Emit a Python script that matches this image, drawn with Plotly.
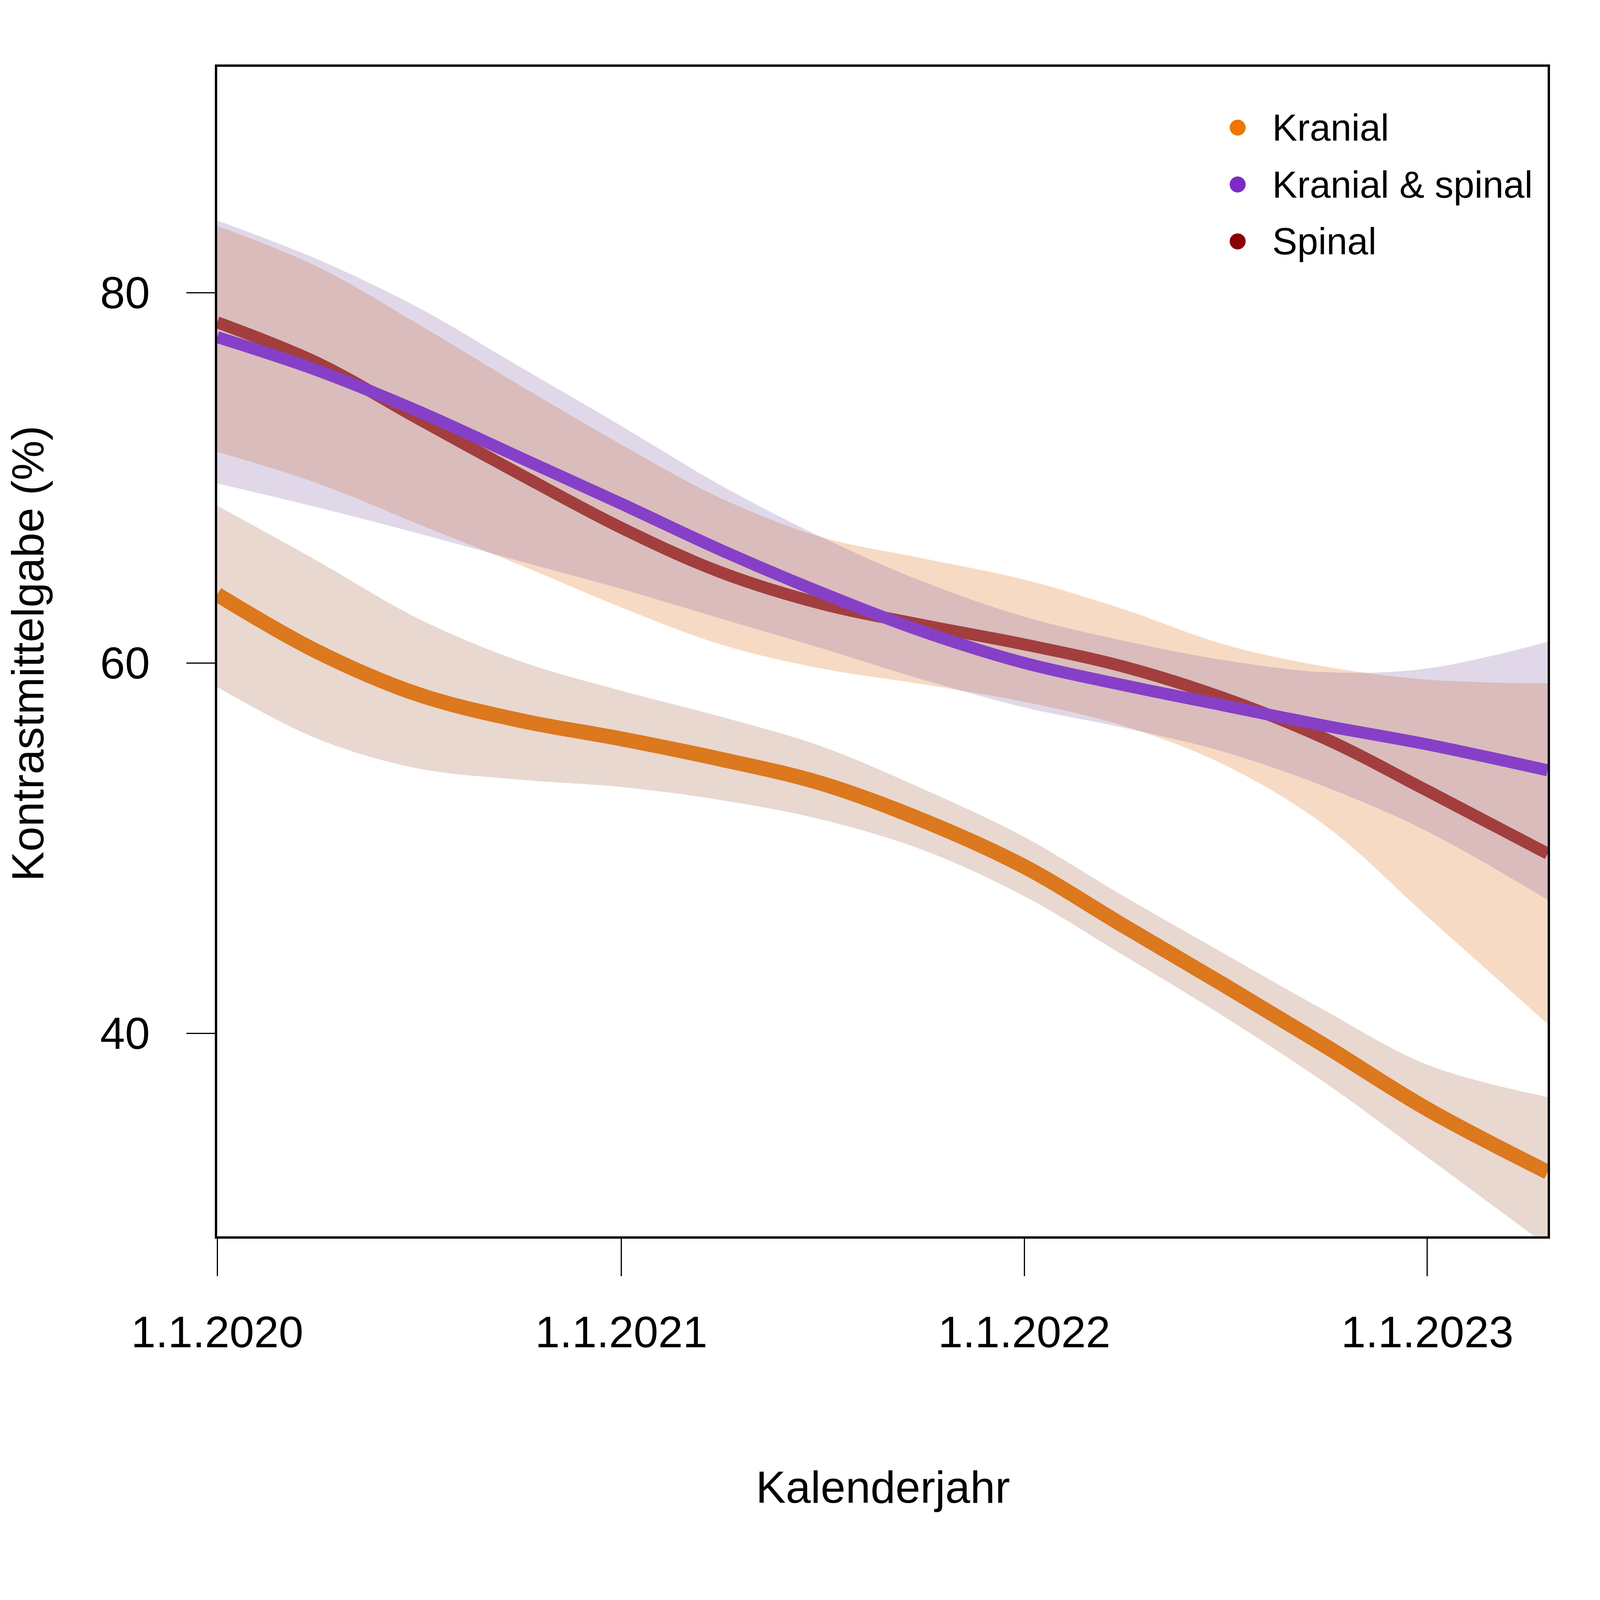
import plotly.graph_objects as go

# ---------------- data ----------------
dates = ['2020-01-01', '2020-04-01', '2020-07-01', '2020-10-01',
         '2021-01-01', '2021-04-01', '2021-07-01', '2021-10-01',
         '2022-01-01', '2022-04-01', '2022-07-01', '2022-10-01',
         '2023-01-01', '2023-04-20']

kranial    = [63.7, 60.6, 58.3, 56.9, 55.9, 54.8, 53.5, 51.5, 49.0, 45.8, 42.6, 39.3, 35.9, 32.5]
kranial_lo = [58.7, 55.9, 54.3, 53.7, 53.3, 52.6, 51.55, 49.9, 47.4, 44.2, 40.9, 37.3, 33.3, 28.5]
kranial_hi = [68.5, 65.5, 62.4, 60.1, 58.5, 57.1, 55.5, 53.2, 50.6, 47.4, 44.3, 41.2, 38.3, 36.55]

spinal     = [78.4, 76.2, 73.2, 70.2, 67.3, 64.9, 63.2, 62.05, 61.0, 59.8, 58.1, 55.9, 53.1, 49.7]
spinal_lo  = [71.4, 69.7, 67.5, 65.3, 63.0, 61.0, 59.7, 58.85, 57.9, 56.6, 54.5, 51.2, 46.3, 40.5]
spinal_hi  = [83.6, 81.4, 78.3, 75.0, 71.8, 68.9, 66.8, 65.65, 64.5, 62.9, 61.0, 59.8, 59.1, 58.9]

both       = [77.6, 75.8, 73.6, 71.1, 68.6, 66.1, 63.8, 61.7, 60.0, 58.8, 57.7, 56.6, 55.6, 54.2]
both_lo    = [69.7, 68.4, 67.0, 65.5, 64.0, 62.4, 60.8, 59.1, 57.6, 56.5, 55.2, 53.3, 50.9, 47.2]
both_hi    = [83.9, 81.8, 79.2, 76.0, 72.8, 69.6, 66.8, 64.4, 62.5, 61.2, 60.15, 59.5, 59.7, 61.15]

series_names = ['Kranial', 'Kranial & spinal', 'Spinal']
x_tickvals = ['2020-01-01', '2021-01-01', '2022-01-01', '2023-01-01']
x_ticktext = ['1.1.2020', '1.1.2021', '1.1.2022', '1.1.2023']
y_tickvals = [40, 60, 80]

# ---------------- styles ----------------
FONT = 'Liberation Sans, Arial, Helvetica, sans-serif'
W, H = 5889, 4500
ML, MR, MT, MB = 800, 192, 188, 1023
PW, PH = W - ML - MR, H - MT - MB

band_kranial = 'rgba(163,99,67,0.25)'
band_spinal = 'rgba(223,107,19,0.25)'
band_both = 'rgba(131,99,163,0.25)'
line_kranial = '#DC781E'
line_spinal = '#A23E3E'
line_both = '#8640C8'
legend_cols = ['#EE7700', '#7D2AC9', '#8B0000']

fig = go.Figure()

def add_band(lo, hi, color):
    fig.add_trace(go.Scatter(x=dates, y=hi, mode='lines', line=dict(width=0, shape='spline'),
                             hoverinfo='skip', showlegend=False))
    fig.add_trace(go.Scatter(x=dates, y=lo, mode='lines', line=dict(width=0, shape='spline'),
                             fill='tonexty', fillcolor=color, hoverinfo='skip', showlegend=False))

add_band(kranial_lo, kranial_hi, band_kranial)
add_band(spinal_lo, spinal_hi, band_spinal)
add_band(both_lo, both_hi, band_both)

fig.add_trace(go.Scatter(x=dates, y=kranial, mode='lines', name=series_names[0],
                         line=dict(color=line_kranial, width=55, shape='spline'), showlegend=False))
fig.add_trace(go.Scatter(x=dates, y=spinal, mode='lines', name=series_names[2],
                         line=dict(color=line_spinal, width=44, shape='spline'), showlegend=False))
fig.add_trace(go.Scatter(x=dates, y=both, mode='lines', name=series_names[1],
                         line=dict(color=line_both, width=44, shape='spline'), showlegend=False))

# ---------------- manual legend (R style, large dots) ----------------
def px_to_paper(px, py):
    return (px - ML) / PW, (H - MB - py) / PH

shapes = []
annotations = []
R_DOT = 29.5
for i in range(3):
    cy_px = 359 + i * 160
    cx, cy = px_to_paper(4556, cy_px)
    shapes.append(dict(type='circle', xref='paper', yref='paper',
                       xsizemode='pixel', ysizemode='pixel', xanchor=cx, yanchor=cy,
                       x0=-R_DOT, x1=R_DOT, y0=-R_DOT, y1=R_DOT,
                       fillcolor=legend_cols[i], line=dict(width=0), layer='above'))
    tx, ty = px_to_paper(4680, cy_px)
    annotations.append(dict(text=series_names[i], xref='paper', yref='paper', x=tx, y=ty,
                            xanchor='left', yanchor='middle', showarrow=False,
                            font=dict(family=FONT, size=138, color='black')))

# axis titles
ax, ay = px_to_paper(3250, 4182)
annotations.append(dict(text='Kalenderjahr', xref='paper', yref='paper', x=ax, y=ay,
                        xanchor='center', yanchor='middle', showarrow=False,
                        font=dict(family=FONT, size=165, color='black')))
tx, ty = px_to_paper(102, 1838)
annotations.append(dict(text='Kontrastmittelgabe (%)', xref='paper', yref='paper', x=tx, y=ty,
                        xanchor='center', yanchor='middle', showarrow=False, textangle=-90,
                        font=dict(family=FONT, size=165, color='black')))

fig.update_layout(
    width=W, height=H,
    margin=dict(l=ML, r=MR, t=MT, b=MB, pad=0),
    paper_bgcolor='white', plot_bgcolor='white',
    showlegend=False,
    shapes=shapes, annotations=annotations,
    font=dict(family=FONT, color='black'),
    xaxis=dict(type='date', range=['2020-01-01', '2023-04-20'],
               tickvals=x_tickvals, ticktext=x_ticktext,
               ticks='outside', ticklen=105, tickwidth=4.5, tickcolor='black',
               showline=True, linewidth=9, linecolor='black', mirror=True,
               showgrid=False, zeroline=False, ticklabelstandoff=51,
               tickfont=dict(family=FONT, size=163, color='black')),
    yaxis=dict(range=[29.03, 92.2], tickvals=y_tickvals,
               ticks='outside', ticklen=105, tickwidth=4.5, tickcolor='black',
               showline=True, linewidth=9, linecolor='black', mirror=True,
               showgrid=False, zeroline=False, ticklabelstandoff=100,
               tickfont=dict(family=FONT, size=165, color='black')),
)

# The browser may cap the window below 5889x4500; if so, lay the same
# figure out again to fill the real viewport (margins scaled per axis).
post = """
(function(){
  document.documentElement.style.margin='0';
  document.body.style.margin='0';
  document.body.style.overflow='hidden';
  var gd=document.getElementById('{plot_id}');
  var W0=5889,H0=4500;
  var vw=window.innerWidth||W0, vh=window.innerHeight||H0;
  if(Math.abs(vw-W0)<1 && Math.abs(vh-H0)<1) return;
  var sx=vw/W0, sy=vh/H0, f=Math.min(sx,sy);
  var L=gd.layout, X=L.xaxis, Y=L.yaxis, M=L.margin;
  var u={width:vw,height:vh,
    'margin.l':M.l*sx,'margin.r':M.r*sx,'margin.t':M.t*sy,'margin.b':M.b*sy,
    'xaxis.ticklen':X.ticklen*sy,'yaxis.ticklen':Y.ticklen*sx,
    'xaxis.tickwidth':X.tickwidth*f,'yaxis.tickwidth':Y.tickwidth*f,
    'xaxis.linewidth':X.linewidth*f,'yaxis.linewidth':Y.linewidth*f,
    'xaxis.ticklabelstandoff':Math.round(X.ticklabelstandoff*sy),
    'yaxis.ticklabelstandoff':Math.round(Y.ticklabelstandoff*sx),
    'xaxis.tickfont.size':X.tickfont.size*f,'yaxis.tickfont.size':Y.tickfont.size*f};
  (L.annotations||[]).forEach(function(a,i){u['annotations['+i+'].font.size']=a.font.size*f;});
  (L.shapes||[]).forEach(function(s,i){
    u['shapes['+i+'].x0']=s.x0*f; u['shapes['+i+'].x1']=s.x1*f;
    u['shapes['+i+'].y0']=s.y0*f; u['shapes['+i+'].y1']=s.y1*f;});
  var w=gd.data.map(function(t){return (t.line&&t.line.width)?t.line.width*f:0;});
  Plotly.update(gd,{'line.width':w},u);
})();
"""
fig.write_html('out.html', post_script=post, config={'displayModeBar': False})
